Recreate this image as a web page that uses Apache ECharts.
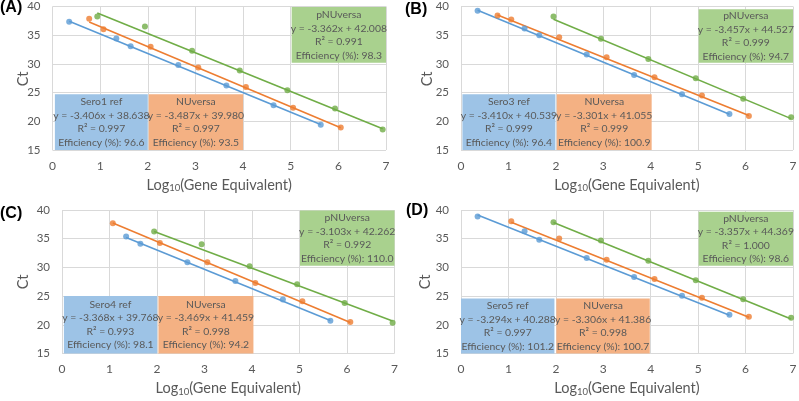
<!DOCTYPE html>
<html><head><meta charset="utf-8">
<script src="https://cdn.jsdelivr.net/npm/echarts@6/dist/echarts.min.js"></script>
<style>html,body{margin:0;padding:0;background:#fff}#c{width:799px;height:401px}</style>
</head><body><div id="c"></div>
<script>
// ---- data ----
const panelLabels = ['(A)', '(B)', '(C)', '(D)'];
const refNames = ['Sero1 ref', 'Sero3 ref', 'Sero4 ref', 'Sero5 ref'];
const seriesNames = ['ref', 'NUversa', 'pNUversa'];
const yAxisTitle = 'Ct';
const xTicks = [0, 1, 2, 3, 4, 5, 6, 7];
const yTicks = [15, 20, 25, 30, 35, 40];

const aRefX = [0.35, 1.34, 1.64, 2.64, 3.65, 4.64, 5.63];
const aRefY = [37.33, 34.42, 33.08, 29.83, 26.22, 22.80, 19.42];
const aNuX = [0.77, 1.07, 2.06, 3.06, 4.06, 5.05, 6.05];
const aNuY = [37.85, 36.05, 32.97, 29.36, 25.99, 22.38, 18.90];
const aPnX = [0.94, 1.94, 2.93, 3.93, 4.93, 5.93, 6.93];
const aPnY = [38.26, 36.51, 32.27, 28.84, 25.41, 22.21, 18.55];

const bRefX = [0.35, 1.34, 1.65, 2.65, 3.65, 4.66, 5.66];
const bRefY = [39.24, 36.16, 35.00, 31.63, 28.08, 24.71, 21.28];
const bNuX = [0.77, 1.06, 2.07, 3.07, 4.08, 5.08, 6.07];
const bNuY = [38.43, 37.73, 34.65, 31.16, 27.67, 24.48, 20.93];
const bPnX = [1.95, 2.95, 3.95, 4.95, 5.95, 6.96];
const bPnY = [38.26, 34.36, 30.87, 27.50, 23.95, 20.70];

const cRefX = [1.35, 1.65, 2.64, 3.65, 4.65, 5.65];
const cRefY = [35.38, 34.11, 30.88, 27.64, 24.41, 20.72];
const cNuX = [1.07, 2.06, 3.06, 4.07, 5.06, 6.07];
const cNuY = [37.69, 34.23, 30.88, 27.30, 24.12, 20.49];
const cPnX = [1.94, 2.94, 3.95, 4.95, 5.95, 6.96];
const cPnY = [36.25, 34.05, 30.18, 27.07, 23.78, 20.37];

const dRefX = [0.35, 1.34, 1.65, 2.65, 3.65, 4.66, 5.66];
const dRefY = [38.85, 36.30, 34.80, 31.63, 28.34, 25.05, 21.76];
const dNuX = [1.06, 2.07, 3.07, 4.08, 5.08, 6.07];
const dNuY = [38.04, 35.03, 31.34, 27.99, 24.70, 21.41];
const dPnX = [1.95, 2.95, 3.95, 4.95, 5.95, 6.96];
const dPnY = [37.86, 34.69, 31.17, 27.76, 24.47, 21.24];

// trendline fits shown in the boxes: [ref, NUversa, pNUversa]
const aSlope = [-3.406, -3.487, -3.362], aIntercept = [38.638, 39.980, 42.008];
const aR2 = ['0.997', '0.997', '0.991'], aEff = ['96.6', '93.5', '98.3'];
const bSlope = [-3.410, -3.301, -3.457], bIntercept = [40.539, 41.055, 44.527];
const bR2 = ['0.999', '0.999', '0.999'], bEff = ['96.4', '100.9', '94.7'];
const cSlope = [-3.368, -3.469, -3.103], cIntercept = [39.768, 41.459, 42.262];
const cR2 = ['0.993', '0.998', '0.992'], cEff = ['98.1', '94.2', '110.0'];
const dSlope = [-3.294, -3.306, -3.357], dIntercept = [40.288, 41.386, 44.369];
const dR2 = ['0.997', '0.998', '1.000'], dEff = ['101.2', '100.7', '98.6'];

// ---- layout / style ----
const colors = ['#5b9bd5', '#ed7d31', '#70ad47'];
const boxColors = ['#9dc3e6', '#f4b183', '#a9d18e'];
const grids = [
  {left: 52.5, top: 6.5, width: 333.5, height: 143.5},
  {left: 461, top: 6.5, width: 332, height: 143.5},
  {left: 62, top: 210, width: 332.5, height: 143.5},
  {left: 461, top: 210, width: 332, height: 143.5}
];
const titlePos = [[0, 0], [405, 2], [0, 206], [406, 203]];
const yTitlePos = [[23, 79], [427, 79], [23, 282], [425, 282]];
const boxRects = [ // [x0, x1, y0, y1] in data units
  [[0.05, 2.0, 15, 24.7], [2.02, 4.0, 15, 24.7], [5.02, 7.0, 30.2, 39.9]],
  [[0.03, 1.99, 15, 24.7], [2.02, 4.02, 15, 24.7], [5.01, 7.0, 30.2, 39.5]],
  [[0.04, 2.0, 15, 25.0], [2.03, 4.03, 15, 25.0], [5.01, 7.0, 30.3, 39.9]],
  [[0.0, 1.97, 15, 24.6], [2.01, 3.98, 15, 24.6], [5.01, 7.0, 30.3, 39.7]]
];

const panels = [
  {xs: [aRefX, aNuX, aPnX], ys: [aRefY, aNuY, aPnY], m: aSlope, b: aIntercept, r2: aR2, eff: aEff},
  {xs: [bRefX, bNuX, bPnX], ys: [bRefY, bNuY, bPnY], m: bSlope, b: bIntercept, r2: bR2, eff: bEff},
  {xs: [cRefX, cNuX, cPnX], ys: [cRefY, cNuY, cPnY], m: cSlope, b: cIntercept, r2: cR2, eff: cEff},
  {xs: [dRefX, dNuX, dPnX], ys: [dRefY, dNuY, dPnY], m: dSlope, b: dIntercept, r2: dR2, eff: dEff}
];

const FONT = 'Lato, "Open Sans", sans-serif';
const gray = '#595959';
const option = {
  animation: false,
  title: [], grid: [], xAxis: [], yAxis: [], series: [], graphic: []
};

panels.forEach((p, i) => {
  option.title.push({
    text: panelLabels[i], left: titlePos[i][0], top: titlePos[i][1], padding: 0,
    textStyle: {fontFamily: 'Arial, "Liberation Sans", sans-serif', fontWeight: 'bold', fontSize: 16, color: '#000'}
  });
  option.graphic.push({
    type: 'text', x: yTitlePos[i][0], y: yTitlePos[i][1], rotation: Math.PI / 2, silent: true,
    style: {text: yAxisTitle, fill: gray, font: '14.5px ' + FONT, align: 'center', verticalAlign: 'middle'}
  });
  option.grid.push(Object.assign({containLabel: false, outerBoundsMode: 'none'}, grids[i]));
  option.xAxis.push({
    type: 'value', gridIndex: i, min: xTicks[0], max: xTicks[xTicks.length - 1], interval: 1,
    name: 'Log{sub|10}(Gene Equivalent)', nameLocation: 'middle', nameGap: 27,
    nameTextStyle: {color: gray, fontSize: 14.5, fontFamily: FONT,
      rich: {sub: {fontSize: 9.5, color: gray, fontFamily: FONT, verticalAlign: 'bottom', padding: [6, 0, 0, 0]}}},
    axisLine: {show: false}, axisTick: {show: false},
    axisLabel: {color: gray, fontSize: 12, fontFamily: FONT, margin: 10},
    splitLine: {show: true, lineStyle: {color: '#d9d9d9', width: 1}}
  });
  option.yAxis.push({
    type: 'value', gridIndex: i, min: yTicks[0], max: yTicks[yTicks.length - 1], interval: 5,
    axisLine: {show: false}, axisTick: {show: false},
    axisLabel: {color: gray, fontSize: 11.5, fontFamily: FONT, margin: 12},
    splitLine: {show: true, lineStyle: {color: '#d9d9d9', width: 1}}
  });
  for (let s = 0; s < 3; s++) {
    const xs = p.xs[s], ys = p.ys[s];
    const x0 = Math.min(...xs), x1 = Math.max(...xs);
    const m = p.m[s], b = p.b[s];
    const sign = b >= 0 ? '+' : '-';
    const name = s === 0 ? refNames[i] : seriesNames[s];
    const txt = [name, 'y = ' + m.toFixed(3) + 'x ' + sign + ' ' + Math.abs(b).toFixed(3),
      'R\u00b2 = ' + p.r2[s], 'Efficiency (%): ' + p.eff[s]].join('\n');
    const r = boxRects[i][s];
    // trendline
    option.series.push({
      type: 'line', xAxisIndex: i, yAxisIndex: i, name: name + ' trend',
      data: [[x0, m * x0 + b], [x1, m * x1 + b]], symbol: 'none', silent: true,
      lineStyle: {color: colors[s], width: 1.6}, z: 3
    });
    // points + annotation box
    option.series.push({
      type: 'scatter', xAxisIndex: i, yAxisIndex: i, name: name,
      data: xs.map((x, k) => [x, ys[k]]), symbol: 'circle', symbolSize: 6,
      itemStyle: {color: colors[s]}, z: 4,
      markArea: {
        silent: true,
        itemStyle: {color: boxColors[s], opacity: 1},
        label: {show: true, position: 'inside', formatter: txt, color: gray, fontSize: 10.4,
          fontFamily: FONT, lineHeight: 13.5, align: 'center', verticalAlign: 'middle'},
        data: [[{coord: [r[0], r[3]]}, {coord: [r[1], r[2]]}]]
      }
    });
  }
});

const chart = echarts.init(document.getElementById('c'), null, {renderer: 'canvas'});
chart.setOption(option);
</script></body></html>
